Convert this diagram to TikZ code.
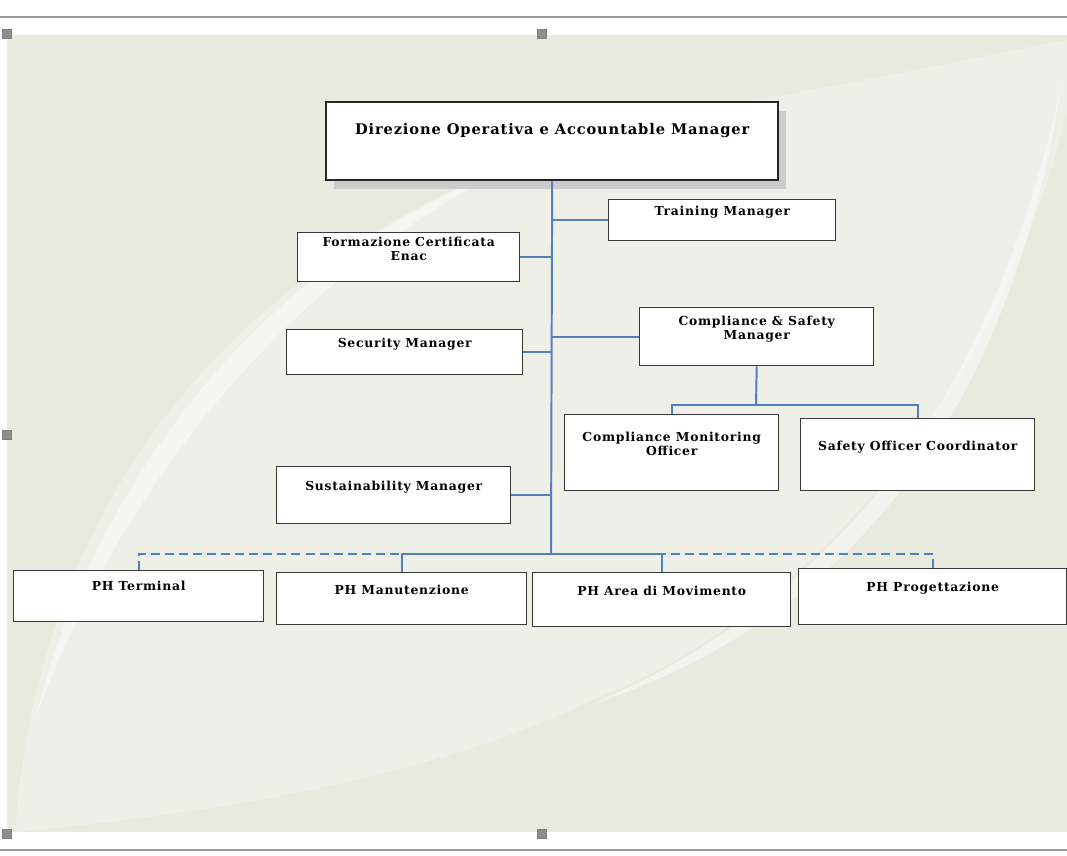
\documentclass[tikz,border=0pt]{standalone}
\usepackage{fontspec}
\setmainfont{DejaVu Serif}
\newfontfamily\orgfont[LetterSpace=6]{DejaVu Serif}
\usetikzlibrary{positioning,shadows}
\definecolor{sfondo}{HTML}{E8EADE}
\definecolor{chiaro}{HTML}{EEEFE7}
\definecolor{linea}{HTML}{4F81BD}
\definecolor{bordo}{HTML}{383838}
\definecolor{maniglia}{HTML}{8E8E8E}

\begin{document}
\begin{tikzpicture}[x=0.025cm, y=-0.025cm,
	box/.style={draw=bordo, line width=1pt, fill=white, anchor=north west, inner sep=0pt},
	capo/.style={box, draw=black!85, line width=1.6pt, drop shadow={shadow xshift=5.7pt, shadow yshift=-6.4pt, fill=black!20, opacity=1}},
	lbl/.style={font=\orgfont\bfseries\fontsize{8.8}{10}\selectfont, align=center, inner sep=0pt},
	conn/.style={draw=linea, line width=1.4pt},
	tratt/.style={conn, dash pattern=on 6.4pt off 3.6pt},
	handle/.style={fill=maniglia, draw=black!50, line width=0.3pt}]
	
	\useasboundingbox (0,0) rectangle (1067,856);
	\draw[black!40, line width=1pt] (0,17) -- (1067,17);
	\draw[black!40, line width=1pt] (0,850) -- (1067,850);
	
	\fill[sfondo] (7,35) rectangle (1067,832);
	\begin{scope}
		\clip (7,35) rectangle (1067,832);
		\fill[chiaro] (15,832) .. controls (40,480) and (260,200) .. (700,110) .. controls (900,75) and (1010,50) .. (1067,40) -- (1067,110) .. controls (1000,400) and (800,620) .. (592,700) .. controls (450,770) and (250,810) .. (15,832) -- cycle;
		\fill[white, opacity=.45] (35,720) .. controls (100,460) and (280,255) .. (500,172) .. controls (300,275) and (125,470) .. (35,720) -- cycle;
		\fill[white, opacity=.45] (590,705) .. controls (850,595) and (1000,380) .. (1063,75) .. controls (1015,395) and (865,615) .. (590,705) -- cycle;
	\end{scope}
	
	\filldraw[handle] (2,29) rectangle (11,38);
	\filldraw[handle] (537,29) rectangle (546,38);
	\filldraw[handle] (2,430) rectangle (11,439);
	\filldraw[handle] (2,829) rectangle (11,838);
	\filldraw[handle] (537,829) rectangle (546,838);
	
	\node[capo, minimum width=11.3cm, minimum height=1.95cm] (dir) at (325,101) {};
	\node[box, minimum width=5.675cm, minimum height=1.025cm] (tm) at (608,199) {};
	\node[box, minimum width=5.55cm, minimum height=1.225cm] (fce) at (297,232) {};
	\node[box, minimum width=5.9cm, minimum height=1.125cm] (sec) at (286,329) {};
	\node[box, minimum width=5.85cm, minimum height=1.45cm] (csm) at (639,307) {};
	\node[box, minimum width=5.35cm, minimum height=1.9cm] (cmo) at (564,414) {};
	\node[box, minimum width=5.85cm, minimum height=1.8cm] (soc) at (800,418) {};
	\node[box, minimum width=5.85cm, minimum height=1.425cm] (sus) at (276,466) {};
	\node[box, minimum width=6.25cm, minimum height=1.275cm] (pht) at (13,570) {};
	\node[box, minimum width=6.25cm, minimum height=1.3cm] (phm) at (276,572) {};
	\node[box, minimum width=6.45cm, minimum height=1.35cm] (pha) at (532,572) {};
	\node[box, minimum width=6.7cm, minimum height=1.4cm] (php) at (798,568) {};
	
	\node[lbl, font=\orgfont\bfseries\fontsize{10.4}{12}\selectfont, below=16pt of dir.north] (dir-t) {Direzione Operativa e Accountable Manager};
	\node[lbl, below=5pt of tm.north] (tm-t) {Training Manager};
	\node[lbl, below=3.5pt of fce.north] (fce-t) {Formazione Certificata\\Enac};
	\node[lbl, below=6.4pt of sec.north] (sec-t) {Security Manager};
	\node[lbl, below=6.4pt of csm.north] (csm-t) {Compliance \& Safety\\Manager};
	\node[lbl, below=12.8pt of cmo.north] (cmo-t) {Compliance Monitoring\\Officer};
	\node[lbl, below=16pt of soc.north] (soc-t) {Safety Officer Coordinator};
	\node[lbl, below=10.7pt of sus.north] (sus-t) {Sustainability Manager};
	\node[lbl, below=7.8pt of pht.north] (pht-t) {PH Terminal};
	\node[lbl, below=9pt of phm.north] (phm-t) {PH Manutenzione};
	\node[lbl, below=10pt of pha.north] (pha-t) {PH Area di Movimento};
	\node[lbl, below=10pt of php.north] (php-t) {PH Progettazione};
	
	\coordinate (bus) at (551,554);
	\coordinate (snodo) at (756,405);
	
	\draw[tratt] (pht.north) |- (phm.north |- bus);
	\draw[tratt] (php.north) |- (pha.north |- bus);
	\draw[conn] (dir.south) -- (bus);
	\draw[conn] (phm.north) |- (bus);
	\draw[conn] (pha.north) |- (bus);
	\draw[conn] (tm.west) -- (tm.west -| dir.south);
	\draw[conn] (fce.east) -- (fce.east -| dir.south);
	\draw[conn] (csm.west) -- (csm.west -| dir.south);
	\draw[conn] (sec.east) -- (sec.east -| dir.south);
	\draw[conn] (sus.east) -- (sus.east -| dir.south);
	\draw[conn] (csm.south) -- (snodo);
	\draw[conn] (cmo.north) |- (snodo);
	\draw[conn] (soc.north) |- (snodo);
	
\end{tikzpicture}
\end{document}
